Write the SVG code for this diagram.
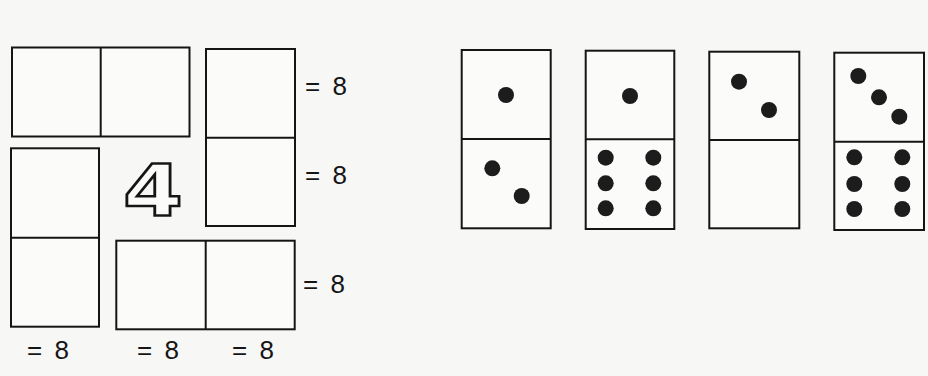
<svg xmlns="http://www.w3.org/2000/svg" width="928" height="376" viewBox="0 0 928 376">
<style>
.d{fill:#fbfbfa;stroke:#151515;stroke-width:2}
.l{stroke:#151515;stroke-width:2}
.p{fill:#1c1c1c}
.t{font-family:"Liberation Sans",Arial,sans-serif;font-size:26px;fill:#151515;word-spacing:5px}
.four{font-family:"DejaVu Sans","Liberation Sans",sans-serif;font-weight:bold;font-size:72px;fill:#fbfbfa;stroke:#151515;stroke-width:2.4;stroke-linejoin:miter}
</style>
<rect width="928" height="376" fill="#f7f7f5"/>

<g id="frame-top">
<rect class="d" x="12" y="47.5" width="177.5" height="89"/>
<line class="l" x1="100.7" y1="47.5" x2="100.7" y2="136.5"/>
</g>
<g id="frame-right">
<rect class="d" x="206" y="49" width="89" height="177"/>
<line class="l" x1="206" y1="137.7" x2="295" y2="137.7"/>
</g>
<g id="frame-left">
<rect class="d" x="11" y="148.3" width="88" height="178.4"/>
<line class="l" x1="11" y1="237.7" x2="99" y2="237.7"/>
</g>
<g id="frame-bottom">
<rect class="d" x="116.3" y="240.7" width="178.4" height="88.6"/>
<line class="l" x1="205.7" y1="240.7" x2="205.7" y2="329.3"/>
</g>
<g id="center-number">
<text class="four" x="123" y="215" textLength="60" lengthAdjust="spacingAndGlyphs">4</text>
</g>

<g id="labels">
<text class="t" x="305" y="95">= 8</text>
<text class="t" x="305" y="184">= 8</text>
<text class="t" x="303" y="293">= 8</text>
<text class="t" x="27" y="359">= 8</text>
<text class="t" x="137" y="359">= 8</text>
<text class="t" x="232" y="359">= 8</text>
</g>

<g id="domino-1-3">
<rect class="d" x="461.7" y="50" width="89" height="178.3"/>
<line class="l" x1="461.7" y1="139" x2="550.7" y2="139"/>
<circle class="p" cx="506" cy="95" r="8"/>
<circle class="p" cx="492.3" cy="168.3" r="8"/>
<circle class="p" cx="521.7" cy="196" r="8"/>
</g>
<g id="domino-1-6">
<rect class="d" x="585.7" y="50.7" width="88.6" height="178.3"/>
<line class="l" x1="585.7" y1="139.3" x2="674.3" y2="139.3"/>
<circle class="p" cx="630" cy="96" r="8"/>
<circle class="p" cx="605.7" cy="157.7" r="8"/>
<circle class="p" cx="653.3" cy="157.7" r="8"/>
<circle class="p" cx="605.7" cy="183.3" r="8"/>
<circle class="p" cx="653.3" cy="183.3" r="8"/>
<circle class="p" cx="605.7" cy="208.3" r="8"/>
<circle class="p" cx="653.3" cy="208.3" r="8"/>
</g>
<g id="domino-2-0">
<rect class="d" x="709.3" y="51.7" width="90" height="176.6"/>
<line class="l" x1="709.3" y1="140" x2="799.3" y2="140"/>
<circle class="p" cx="739" cy="81.7" r="8"/>
<circle class="p" cx="769" cy="110" r="8"/>
</g>
<g id="domino-3-6">
<rect class="d" x="834.3" y="52.7" width="89.7" height="177.3"/>
<line class="l" x1="834.3" y1="141.7" x2="924" y2="141.7"/>
<circle class="p" cx="858.3" cy="76" r="8"/>
<circle class="p" cx="879" cy="97.3" r="8"/>
<circle class="p" cx="899.3" cy="116.7" r="8"/>
<circle class="p" cx="854.3" cy="157.3" r="8"/>
<circle class="p" cx="902.3" cy="157.3" r="8"/>
<circle class="p" cx="854.3" cy="184" r="8"/>
<circle class="p" cx="902.3" cy="184" r="8"/>
<circle class="p" cx="854.3" cy="209" r="8"/>
<circle class="p" cx="902.3" cy="209" r="8"/>
</g>
</svg>
